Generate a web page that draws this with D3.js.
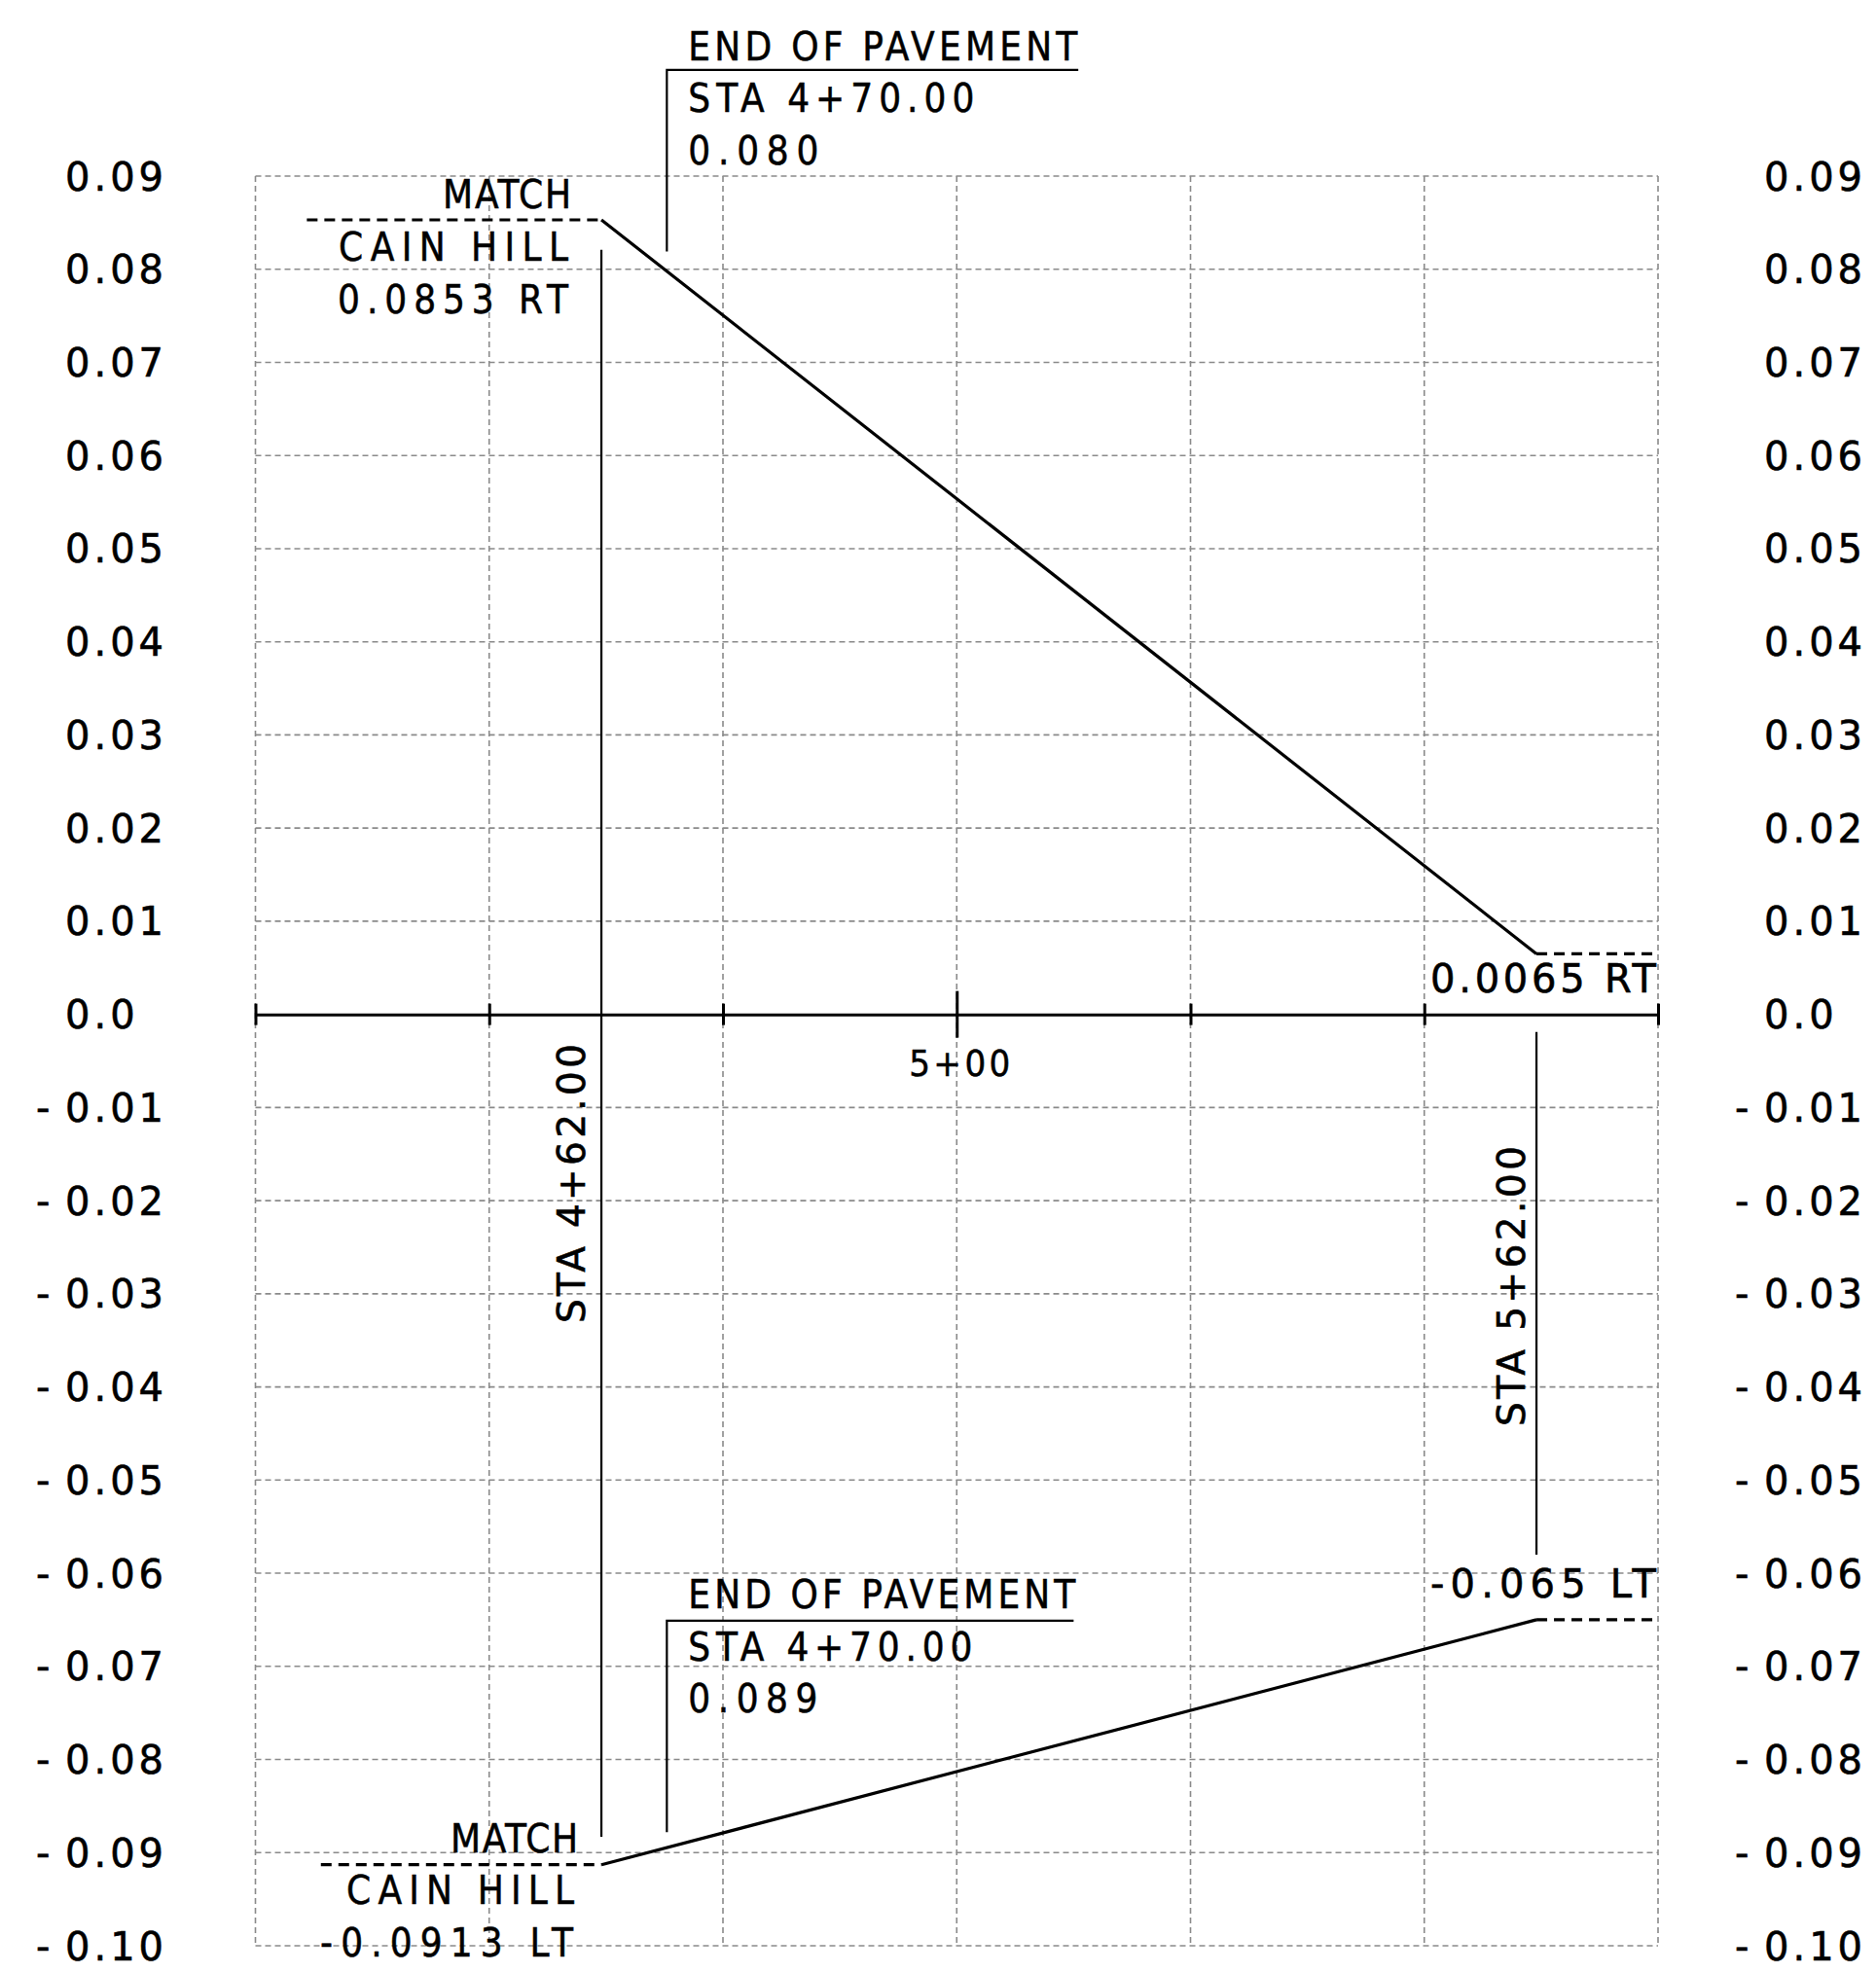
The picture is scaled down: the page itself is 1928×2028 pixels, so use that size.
<!DOCTYPE html>
<html>
<head>
<meta charset="utf-8">
<script src="https://cdn.jsdelivr.net/npm/d3@7"></script>
<style>
    body { margin: 0; background: #fff; }
    svg { display: block; }
    .grid line { stroke: #8a8a8a; stroke-width: 1.6; stroke-dasharray: 6 4; }
    .profile { fill: none; stroke: #000; stroke-width: 3.2; }
    .match { fill: none; stroke: #000; stroke-width: 3.2; stroke-dasharray: 11 7; }
    .leader { fill: none; stroke: #000; stroke-width: 2.2; }
    .wide { font-family: "DejaVu Sans", sans-serif; fill: #000; stroke: #000; stroke-width: 0.6; }
    .narrow { font-family: "Liberation Sans Narrow", "DejaVu Sans Condensed", sans-serif; fill: #000; stroke: #000; stroke-width: 0.5; }
</style>
</head>
<body>
<script>

// superelevation diagram: cross slope vs station

const gridStations = [425, 450, 475, 500, 525, 550, 575];
const slopeTicks = [0.09, 0.08, 0.07, 0.06, 0.05, 0.04, 0.03, 0.02, 0.01, 0,
    -0.01, -0.02, -0.03, -0.04, -0.05, -0.06, -0.07, -0.08, -0.09, -0.10];
const slopeTickLabels = ['0.09', '0.08', '0.07', '0.06', '0.05', '0.04', '0.03', '0.02', '0.01', '0.0',
    '-0.01', '-0.02', '-0.03', '-0.04', '-0.05', '-0.06', '-0.07', '-0.08', '-0.09', '-0.10'];

const rightEdge = [[462, 0.0853], [562, 0.0065]];
const leftEdge = [[462, -0.0913], [562, -0.065]];
const rightMatch = [[430.5, 0.0853], [462, 0.0853]];
const leftMatch = [[432, -0.0913], [462, -0.0913]];
const rightRunout = [[562, 0.0065], [575, 0.0065]];
const leftRunout = [[562, -0.065], [575, -0.065]];

const stationMarks = [
    {sta: 462, top: 0.0821, bottom: -0.0883, label: 'STA 4+62.00'},
    {sta: 562, top: -0.0019, bottom: -0.058, label: 'STA 5+62.00'}
];
const pavementNotes = [
    {sta: 469, top: 0.1014, bottom: 0.0819, end: 513, lines: ['END OF PAVEMENT', 'STA 4+70.00', '0.080']},
    {sta: 469, top: -0.0651, bottom: -0.0878, end: 512.5, lines: ['END OF PAVEMENT', 'STA 4+70.00', '0.089']}
];
const matchNotes = [
    {sta: 462, slope: 0.0853, lines: ['MATCH', 'CAIN HILL', '0.0853 RT']},
    {sta: 462, slope: -0.0913, lines: ['MATCH', 'CAIN HILL', '-0.0913 LT']}
];
const endNotes = [
    {slope: 0.0065, text: '0.0065 RT'},
    {slope: -0.065, text: '-0.065 LT'}
];
const stationLabel = '5+00';

const W = 1928, H = 2028;

const svg = d3.select('body').append('svg')
    .attr('width', W)
    .attr('height', H);

const x = d3.scaleLinear().domain([425, 575]).range([262.5, 1704]);
const y = d3.scaleLinear().domain([-0.10, 0.09]).range([2000, 181]);

const line = d3.line()
    .x(d => x(d[0]))
    .y(d => y(d[1]));

drawGrid();
drawAxis();
drawProfiles();
drawStationMarks();
drawPavementNotes();
drawMatchNotes();
drawEndNotes();


function drawGrid () {
    const grid = svg.append('g').classed('grid', true);

    grid.selectAll('.vgrid')
        .data(gridStations)
        .enter().append('line')
        .attr('x1', d => x(d)).attr('x2', d => x(d))
        .attr('y1', y(0.09)).attr('y2', y(-0.10));

    grid.selectAll('.hgrid')
        .data(slopeTicks.filter(d => d !== 0))
        .enter().append('line')
        .attr('x1', x(425)).attr('x2', x(575))
        .attr('y1', d => y(d)).attr('y2', d => y(d));

    // slope labels, both sides; the minus sign hangs left of the digits
    [70, 1816].forEach(function (lx) {
        const t = svg.append('g').selectAll('text')
            .data(slopeTicks)
            .enter().append('text')
            .classed('wide', true)
            .attr('font-size', 40)
            .attr('letter-spacing', 4)
            .attr('y', d => y(d) + 14.5);

        t.each(function (d, i) {
            const label = slopeTickLabels[i];
            const el = d3.select(this);
            if (label[0] === '-') {
                el.append('tspan').attr('x', lx - 33).text('-');
                el.append('tspan').attr('x', lx - 3).text(label.slice(1));
            } else {
                el.append('tspan').attr('x', lx - 3).text(label);
            }
        });
    });
}

function drawAxis () {
    const axis = d3.axisBottom(x)
        .tickValues(gridStations)
        .tickSize(10)
        .tickSizeOuter(0)
        .tickFormat('');

    const g = svg.append('g')
        .attr('transform', 'translate(0,' + y(0) + ')')
        .call(axis);

    g.select('.domain').attr('stroke', '#000').attr('stroke-width', 3);
    g.selectAll('.tick line')
        .attr('stroke', '#000')
        .attr('stroke-width', 3)
        .attr('y1', d => d === 500 ? -24 : -11)
        .attr('y2', d => d === 500 ? 24 : 11);

    svg.append('text')
        .classed('narrow', true)
        .attr('font-size', 38)
        .attr('text-anchor', 'middle')
        .attr('x', x(500) + 3)
        .attr('y', y(0) + 63)
        .attr('textLength', 104)
        .attr('lengthAdjust', 'spacing')
        .text(stationLabel);
}

function drawProfiles () {
    [rightEdge, leftEdge].forEach(function (d) {
        svg.append('path').classed('profile', true).attr('d', line(d));
    });
    [rightMatch, leftMatch, rightRunout, leftRunout].forEach(function (d) {
        svg.append('path').classed('match', true).attr('d', line(d));
    });
}

function drawStationMarks () {
    const textDx = [-17, -12];
    const textLen = [287, 288];
    const textStart = [1360, 1466];

    stationMarks.forEach(function (m, i) {
        svg.append('line')
            .classed('leader', true)
            .attr('x1', x(m.sta)).attr('x2', x(m.sta))
            .attr('y1', y(m.top)).attr('y2', y(m.bottom));

        svg.append('text')
            .classed('wide', true)
            .attr('font-size', 39)
            .attr('transform', 'translate(' + (x(m.sta) + textDx[i]) + ',' + textStart[i] + ') rotate(-90)')
            .attr('textLength', textLen[i])
            .attr('lengthAdjust', 'spacing')
            .text(m.label);
    });
}

function drawPavementNotes () {
    const baseDy = [[-9.5, 43.5, 97], [-12.5, 40.7, 93.7]];
    const lens = [[400, 294, 134], [398, 292, 133]];

    pavementNotes.forEach(function (n, i) {
        svg.append('path')
            .classed('leader', true)
            .attr('d', line([[n.sta, n.bottom], [n.sta, n.top], [n.end, n.top]]));

        n.lines.forEach(function (txt, j) {
            svg.append('text')
                .classed('narrow', true)
                .attr('font-size', 40)
                .attr('x', x(n.sta) + 22)
                .attr('y', y(n.top) + baseDy[i][j])
                .attr('textLength', lens[i][j])
                .attr('lengthAdjust', 'spacing')
                .text(txt);
        });
    });
}

function drawMatchNotes () {
    const rightDx = [[-31, -34, -34], [-24, -28, -29]];
    const baseDy = [[-11.7, 42.5, 95.7], [-13, 40.7, 94]];
    const lens = [[132, 236, 237], [131, 234, 260]];

    matchNotes.forEach(function (n, i) {
        n.lines.forEach(function (txt, j) {
            svg.append('text')
                .classed('narrow', true)
                .attr('font-size', 40)
                .attr('text-anchor', 'end')
                .attr('x', x(n.sta) + rightDx[i][j])
                .attr('y', y(n.slope) + baseDy[i][j])
                .attr('textLength', lens[i][j])
                .attr('lengthAdjust', 'spacing')
                .text(txt);
        });
    });
}

function drawEndNotes () {
    const baseDy = [40, -22.5];

    endNotes.forEach(function (n, i) {
        svg.append('text')
            .classed('wide', true)
            .attr('font-size', 40)
            .attr('text-anchor', 'end')
            .attr('x', x(575) - 2)
            .attr('y', y(n.slope) + baseDy[i])
            .attr('textLength', 232)
            .attr('lengthAdjust', 'spacing')
            .text(n.text);
    });
}

</script>
</body>
</html>
